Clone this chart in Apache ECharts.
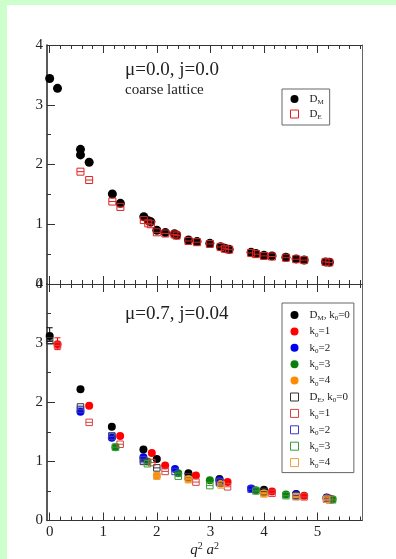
<!DOCTYPE html>
<html>
<head>
<meta charset="utf-8">
<script src="https://cdn.jsdelivr.net/npm/echarts@6/dist/echarts.min.js"></script>
<style>
body{margin:0;background:#ccffcc;}
#paper{position:absolute;left:7px;top:5px;width:389px;height:554px;background:#fff;}
#chart{position:absolute;left:0;top:0;width:396px;height:559px;}
</style>
</head>
<body>
<div id="paper"></div>
<div id="chart"></div>
<script>
// 上图: mu=0.0, j=0.0 (coarse lattice)
var q1M = [0, 0.146, 0.575, 0.575, 0.737, 1.17, 1.32, 1.757, 1.84, 1.89, 2.0, 2.16, 2.33, 2.37, 2.59, 2.75, 2.99, 3.19, 3.27, 3.35, 3.76, 3.85, 4.0, 4.15, 4.41, 4.6, 4.75, 5.15, 5.22];
var dM1 = [3.44, 3.275, 2.254, 2.16, 2.037, 1.506, 1.35, 1.127, 1.06, 1.04, 0.90, 0.86, 0.84, 0.82, 0.736, 0.71, 0.68, 0.625, 0.60, 0.58, 0.53, 0.51, 0.48, 0.47, 0.447, 0.42, 0.40, 0.37, 0.365];
var q1E = [0.575, 0.737, 1.17, 1.32, 1.757, 1.84, 1.89, 2.0, 2.16, 2.33, 2.37, 2.59, 2.75, 2.99, 3.19, 3.27, 3.35, 3.76, 3.85, 4.0, 4.15, 4.41, 4.6, 4.75, 5.15, 5.22];
var dE1 = [1.88, 1.74, 1.38, 1.29, 1.07, 1.015, 1.0, 0.865, 0.845, 0.83, 0.81, 0.72, 0.70, 0.67, 0.62, 0.59, 0.575, 0.52, 0.50, 0.47, 0.46, 0.44, 0.415, 0.40, 0.37, 0.36];

// 下图: mu=0.7, j=0.04, k0 = 0..4
var qK0 = [0, 0.575, 1.16, 1.75, 2.0, 2.59, 3.17, 4.0, 4.6, 5.17];
var qK1 = [0.146, 0.737, 1.315, 1.906, 2.155, 2.73, 3.32, 4.15, 4.75, 5.22];
var qK2 = [0.575, 1.16, 1.75, 2.34, 3.17, 3.76, 4.6, 5.17];
var qK3 = [1.228, 1.825, 2.40, 2.99, 3.85, 4.41, 5.28];
var qK4 = [2.0, 2.59, 3.2, 4.0, 4.6, 5.17];
var dMK0 = [3.12, 2.22, 1.585, 1.20, 1.04, 0.80, 0.70, 0.52, 0.45, 0.39];
var dMK1 = [2.98, 1.94, 1.43, 1.14, 0.93, 0.76, 0.65, 0.49, 0.42, 0.37];
var dMK2 = [1.84, 1.40, 1.07, 0.87, 0.68, 0.54, 0.44, 0.38];
var dMK3 = [1.24, 1.0, 0.80, 0.68, 0.51, 0.44, 0.36];
var dMK4 = [0.76, 0.70, 0.62, 0.46, 0.42, 0.37];
var dEK0 = [3.04, 1.92, 1.43, 1.00, 0.89, 0.74, 0.64, 0.49, 0.42, 0.36];
var dEK1 = [2.96, 1.66, 1.29, 0.98, 0.83, 0.65, 0.57, 0.46, 0.40, 0.35];
var dEK2 = [1.88, 1.42, 1.03, 0.83, 0.66, 0.53, 0.42, 0.37];
var dEK3 = [1.24, 0.96, 0.75, 0.59, 0.50, 0.42, 0.35];
var dEK4 = [0.75, 0.69, 0.60, 0.45, 0.40, 0.36];
// 误差棒 [q, 下, 上]
var errK0 = [[0, 3.03, 3.26]];
var errK1 = [[0.146, 2.89, 3.09]];

// 刻度
var xMajor = [0, 1, 2, 3, 4, 5];
var xMinor = [0.2, 0.4, 0.6, 0.8, 1.2, 1.4, 1.6, 1.8, 2.2, 2.4, 2.6, 2.8, 3.2, 3.4, 3.6, 3.8, 4.2, 4.4, 4.6, 4.8, 5.2, 5.4, 5.6, 5.8];
var yMajor = [0, 1, 2, 3, 4];
var yMinor = [0.5, 1.5, 2.5, 3.5];

var XMIN = -0.05, XMAX = 5.83;
var FONT = "'Liberation Serif', 'DejaVu Serif', serif";
var SQ = 'path://M0,0H10V10H0ZM0,5H10';

var colM = ['#000000', '#ff0000', '#0000ee', '#0a800a', '#ff8c00'];
var colE = ['#333333', '#d94040', '#3a3ac8', '#3a9a3a', '#e8a040'];

function pairs(xs, ys) {
	var out = [];
	for (var i = 0; i < xs.length; i++) out.push([xs[i], ys[i]]);
	return out;
}

function xAx(grid, pos, ticks, len, line, labels, name) {
	return {
		type: 'value', gridIndex: grid, position: pos, min: XMIN, max: XMAX,
		axisLine: {show: line, onZero: false, lineStyle: {color: '#333', width: 1}},
		axisTick: {show: true, inside: true, length: len, customValues: ticks, lineStyle: {color: '#333'}},
		axisLabel: {show: !!labels, customValues: labels || [], color: '#222', fontFamily: FONT, fontSize: 15, margin: 4},
		splitLine: {show: false},
		name: name || '',
		nameLocation: 'middle',
		nameGap: 21,
		nameTextStyle: {
			rich: {
				i: {fontFamily: FONT, fontStyle: 'italic', fontSize: 15, lineHeight: 18, color: '#222'},
				s: {fontFamily: FONT, fontSize: 10, lineHeight: 10, verticalAlign: 'top', color: '#222'}
			}
		}
	};
}

function yAx(grid, pos, ticks, len, line, labels) {
	return {
		type: 'value', gridIndex: grid, position: pos, min: 0, max: 4,
		axisLine: {show: line, onZero: false, lineStyle: {color: pos == 'left' ? '#222' : '#666', width: pos == 'left' ? 1.5 : 1}},
		axisTick: {show: ticks.length > 0, inside: true, length: len, customValues: ticks, lineStyle: {color: '#333'}},
		axisLabel: {show: !!labels, customValues: labels || [], color: '#222', fontFamily: FONT, fontSize: 15, margin: 4},
		splitLine: {show: false}
	};
}

function dot(name, xi, yi, data, color, size) {
	return {
		name: name, type: 'scatter', xAxisIndex: xi, yAxisIndex: yi, clip: false,
		symbol: 'circle', symbolSize: size, data: data,
		itemStyle: {color: color, opacity: 1}
	};
}

function box(name, xi, yi, data, color, size) {
	return {
		name: name, type: 'scatter', xAxisIndex: xi, yAxisIndex: yi, clip: false,
		symbol: SQ, symbolSize: size, data: data,
		itemStyle: {color: 'rgba(0,0,0,0)', borderColor: color, borderWidth: 1, opacity: 1}
	};
}

function errBar(name, data, color) {
	return {
		name: name, type: 'custom', xAxisIndex: 4, yAxisIndex: 3, data: data,
		encode: {x: 0, y: [1, 2]},
		renderItem: function(params, api) {
			var lo = api.coord([api.value(0), api.value(1)]);
			var hi = api.coord([api.value(0), api.value(2)]);
			var st = {stroke: color, lineWidth: 1};
			return {
				type: 'group',
				children: [
					{type: 'line', shape: {x1: lo[0], y1: lo[1], x2: hi[0], y2: hi[1]}, style: st},
					{type: 'line', shape: {x1: lo[0] - 3, y1: lo[1], x2: lo[0] + 3, y2: lo[1]}, style: st},
					{type: 'line', shape: {x1: hi[0] - 3, y1: hi[1], x2: hi[0] + 3, y2: hi[1]}, style: st}
				]
			};
		}
	};
}

var legendNames = {
	DM: '{g|}{m|D}{s|M}', DE: '{g|}{m|D}{s|E}',
	M0: '{g|}{m|D}{s|M}{m|, k}{s|0}{m|=0}', M1: '{g|}{m|k}{s|0}{m|=1}', M2: '{g|}{m|k}{s|0}{m|=2}', M3: '{g|}{m|k}{s|0}{m|=3}', M4: '{g|}{m|k}{s|0}{m|=4}',
	E0: '{g|}{m|D}{s|E}{m|, k}{s|0}{m|=0}', E1: '{g|}{m|k}{s|0}{m|=1}', E2: '{g|}{m|k}{s|0}{m|=2}', E3: '{g|}{m|k}{s|0}{m|=3}', E4: '{g|}{m|k}{s|0}{m|=4}'
};
var legendRich = {
	g: {width: 6},
	m: {fontFamily: FONT, fontSize: 11, lineHeight: 14, color: '#222', verticalAlign: 'middle'},
	s: {fontFamily: FONT, fontSize: 7, lineHeight: 7, color: '#222', verticalAlign: 'bottom'}
};

function legendOf(names, top, pad, gap) {
	var data = [];
	for (var i = 0; i < names.length; i++) {
		data.push({name: names[i], icon: names[i].charAt(1) == 'E' || names[i].charAt(0) == 'E' ? 'rect' : 'circle'});
	}
	return {
		data: data, orient: 'vertical', left: 282, top: top,
		padding: pad, itemGap: gap, itemWidth: 8, itemHeight: 8,
		borderColor: '#666', borderWidth: 1,
		itemStyle: {borderWidth: 1},
		selectedMode: false,
		formatter: function(n) { return legendNames[n]; },
		textStyle: {rich: legendRich}
	};
}

var series = [
	dot('DM', 0, 0, pairs(q1M, dM1), '#000', 9),
	box('DE', 0, 0, pairs(q1E, dE1), '#e02020', 7),
	errBar('errK0', errK0, colM[0]),
	errBar('errK1', errK1, colM[1]),
	dot('M0', 4, 3, pairs(qK0, dMK0), colM[0], 8),
	dot('M1', 4, 3, pairs(qK1, dMK1), colM[1], 8),
	dot('M2', 4, 3, pairs(qK2, dMK2), colM[2], 8),
	dot('M3', 4, 3, pairs(qK3, dMK3), colM[3], 8),
	dot('M4', 4, 3, pairs(qK4, dMK4), colM[4], 8),
	box('E0', 4, 3, pairs(qK0, dEK0), colE[0], 6.5),
	box('E1', 4, 3, pairs(qK1, dEK1), colE[1], 6.5),
	box('E2', 4, 3, pairs(qK2, dEK2), colE[2], 6.5),
	box('E3', 4, 3, pairs(qK3, dEK3), colE[3], 6.5),
	box('E4', 4, 3, pairs(qK4, dEK4), colE[4], 6.5)
];

var chart = echarts.init(document.getElementById('chart'), null, {renderer: 'canvas'});
chart.setOption({
	animation: false,
	backgroundColor: 'transparent',
	grid: [
		{left: 47, top: 45, width: 315, height: 239},
		{left: 47, top: 284, width: 315, height: 238}
	],
	xAxis: [
		xAx(0, 'bottom', xMajor, 8, true),
		xAx(0, 'bottom', xMinor, 4, false),
		xAx(0, 'top', xMajor, 8, true),
		xAx(0, 'top', xMinor, 4, false),
		xAx(1, 'bottom', xMajor, 8, true, xMajor, '{i|q}{s|2}{i| a}{s|2}'),
		xAx(1, 'bottom', xMinor, 4, false),
		xAx(1, 'top', xMajor, 8, true),
		xAx(1, 'top', xMinor, 4, false)
	],
	yAxis: [
		yAx(0, 'left', yMajor, 8, true, yMajor),
		yAx(0, 'left', yMinor, 4, false),
		yAx(0, 'right', [], 0, true),
		yAx(1, 'left', yMajor, 8, true, yMajor),
		yAx(1, 'left', yMinor, 4, false),
		yAx(1, 'right', [], 0, true)
	],
	legend: [
		legendOf(['DM', 'DE'], 89, [4, 6, 4, 8], 2),
		legendOf(['M0', 'M1', 'M2', 'M3', 'M4', 'E0', 'E1', 'E2', 'E3', 'E4'], 303, [6, 4, 3, 8], 3.4)
	],
	graphic: [
		{type: 'text', left: 125, top: 61, style: {text: 'μ=0.0, j=0.0', font: '19px ' + FONT, fill: '#222'}},
		{type: 'text', left: 125, top: 83, style: {text: 'coarse lattice', font: '15px ' + FONT, fill: '#222'}},
		{type: 'text', left: 125, top: 305, style: {text: 'μ=0.7, j=0.04', font: '19px ' + FONT, fill: '#222'}}
	],
	series: series
});
</script>
</body>
</html>
